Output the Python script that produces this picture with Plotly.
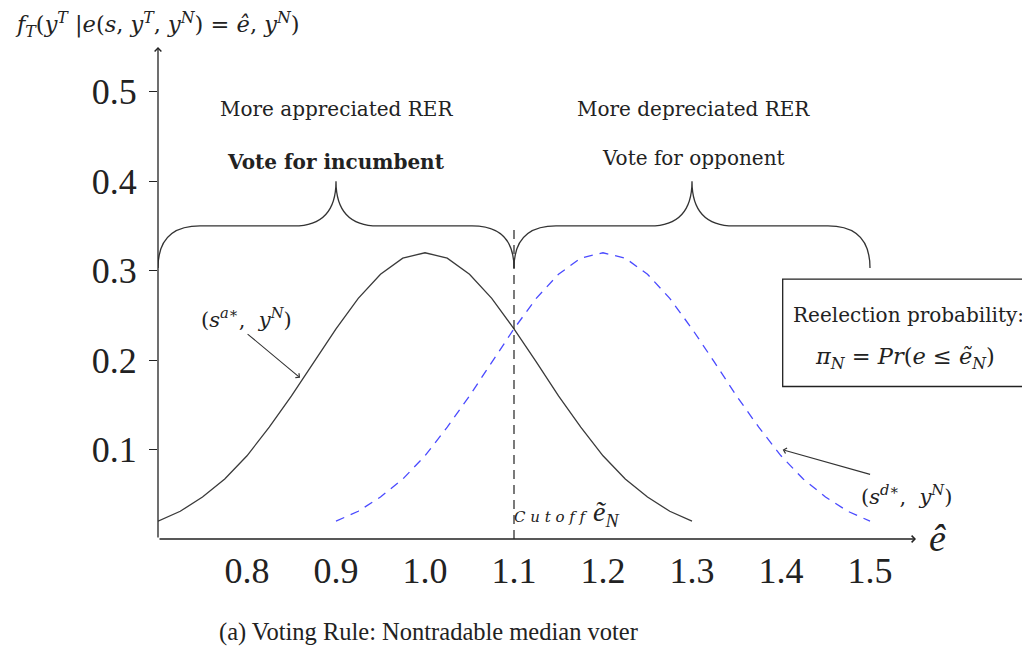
import plotly.graph_objects as go

# ---------------- data ----------------
x_incumbent = [0.700, 0.725, 0.750, 0.775, 0.800, 0.825, 0.850, 0.875, 0.900, 0.925, 0.950, 0.975,
               1.000, 1.025, 1.050, 1.075, 1.100, 1.125, 1.150, 1.175, 1.200, 1.225, 1.250, 1.275, 1.300]
y_incumbent = [0.020, 0.031, 0.047, 0.067, 0.093, 0.125, 0.160, 0.198, 0.235, 0.269, 0.296, 0.314,
               0.320, 0.314, 0.296, 0.269, 0.235, 0.198, 0.160, 0.125, 0.093, 0.067, 0.047, 0.031, 0.020]
x_opponent = [0.900, 0.925, 0.950, 0.975, 1.000, 1.025, 1.050, 1.075, 1.100, 1.125, 1.150, 1.175,
              1.200, 1.225, 1.250, 1.275, 1.300, 1.325, 1.350, 1.375, 1.400, 1.425, 1.450, 1.475, 1.500]
y_opponent = [0.020, 0.031, 0.047, 0.067, 0.093, 0.125, 0.160, 0.198, 0.235, 0.269, 0.296, 0.314,
              0.320, 0.314, 0.296, 0.269, 0.235, 0.198, 0.160, 0.125, 0.093, 0.067, 0.047, 0.031, 0.020]

x_tickvals = [0.8, 0.9, 1.0, 1.1, 1.2, 1.3, 1.4, 1.5]
x_ticktext = ["0.8", "0.9", "1.0", "1.1", "1.2", "1.3", "1.4", "1.5"]
y_tickvals = [0.1, 0.2, 0.3, 0.4, 0.5]
y_ticktext = ["0.1", "0.2", "0.3", "0.4", "0.5"]

cutoff = 1.1

# page offset (the page body has an 8px margin)
OFF = 8
W, H = 1030 - OFF, 652 - OFF
PLOT_L = 158 - OFF          # left edge of plot area in figure px
Y0_PX = 539.3 - OFF         # y=0 in figure px
PX_PER_X = 890.0
PX_PER_Y = 895.0
x_min, x_max = 0.7, 0.7 + (W - PLOT_L) / PX_PER_X
y_min, y_max = 0.0, Y0_PX / PX_PER_Y

TEXT = "#222222"
SERIF = "DejaVu Serif"
TICKFONT = dict(family="Liberation Serif", size=36, color=TEXT)

fig = go.Figure()
fig.add_trace(go.Scatter(x=x_incumbent, y=y_incumbent, mode="lines",
                         line=dict(color="#3a3a3a", width=1.3), hoverinfo="skip"))
fig.add_trace(go.Scatter(x=x_opponent, y=y_opponent, mode="lines",
                         line=dict(color="#4a4aff", width=1.3, dash="9px,7px"), hoverinfo="skip"))

# cutoff dashed line
fig.add_shape(type="line", xref="x", yref="y", x0=cutoff, x1=cutoff, y0=0, y1=0.348,
              line=dict(color="#222222", width=1.2, dash="9px,6px"))

# braces
def brace(x0, x1, yb=0.303, yf=0.35, yt=0.4, r=0.0472):
    xm = (x0 + x1) / 2
    return (f"M{x0},{yb} Q{x0},{yf} {x0 + r},{yf} L{xm - r},{yf} Q{xm},{yf} {xm},{yt} "
            f"Q{xm},{yf} {xm + r},{yf} L{x1 - r},{yf} Q{x1},{yf} {x1},{yb}")

for a, b in [(0.7, 1.1), (1.1, 1.5)]:
    fig.add_shape(type="path", xref="x", yref="y", path=brace(a, b),
                  line=dict(color="#333333", width=1.3))

# reelection box
fig.add_shape(type="rect", xref="x", yref="y", x0=1.4019, x1=1.6775, y0=0.1705, y1=0.2905,
              line=dict(color="#222222", width=1.3), fillcolor="rgba(0,0,0,0)")

ann = []
# axis arrows
ann.append(dict(x=1.5517, y=0, ax=0.7, ay=0, xref="x", yref="y", axref="x", ayref="y",
                text="", showarrow=True, arrowhead=4, arrowsize=1, arrowwidth=1.3, arrowcolor="#222222"))
ann.append(dict(x=0.7, y=0.55, ax=0.7, ay=0, xref="x", yref="y", axref="x", ayref="y",
                text="", showarrow=True, arrowhead=4, arrowsize=1, arrowwidth=1.3, arrowcolor="#222222"))
# pointer arrows
ann.append(dict(x=0.8596, y=0.1802, ax=0.799, ay=0.2305, xref="x", yref="y", axref="x", ayref="y",
                text="", showarrow=True, arrowhead=4, arrowsize=1, arrowwidth=1.1, arrowcolor="#333333"))
ann.append(dict(x=1.4019, y=0.0998, ax=1.5018, ay=0.0718, xref="x", yref="y", axref="x", ayref="y",
                text="", showarrow=True, arrowhead=4, arrowsize=1, arrowwidth=1.1, arrowcolor="#333333"))


def px_x(px):
    """page px -> paper x"""
    return (px - OFF - PLOT_L) / (W - PLOT_L)


def px_y(py):
    """page px -> paper y"""
    return (Y0_PX - (py - OFF)) / Y0_PX


def txt(px, py, s, size, family=SERIF, xanchor="center"):
    ann.append(dict(x=px_x(px), y=px_y(py), xref="paper", yref="paper", text=s, showarrow=False,
                    xanchor=xanchor, yanchor="middle",
                    font=dict(family=family, size=size, color=TEXT)))


NB = "\u00a0"

txt(336, 109, "More appreciated RER", 20)
txt(336, 162, "<b>Vote for incumbent</b>", 20)
txt(693, 109, "More depreciated RER", 20)
txt(693, 158, "Vote for opponent", 20)

txt(908, 315, "Reelection probability:", 20)
txt(905, 358,
    f"<i>π</i><sub><i>N</i></sub>{NB}={NB}<i>Pr</i>(<i>e</i>{NB}≤{NB}<i>ẽ</i><sub><i>N</i></sub>)",
    22.5)

txt(246, 318, f"(<i>s</i><sup><i>a</i>∗</sup>,{NB}{NB}<i>y</i><sup><i>N</i></sup>)", 21)
txt(906, 495, f"(<i>s</i><sup><i>d</i>∗</sup>,{NB}{NB}<i>y</i><sup><i>N</i></sup>)", 21)

txt(512, 517, "<i>C u t o f f</i>", 15, xanchor="left")
txt(591, 514, "<i>ẽ</i><sub><i>N</i></sub>", 28, family="Liberation Serif", xanchor="left")

txt(937, 538, "<i>ê</i>", 38, family="Liberation Serif")

txt(157, 25,
    f"<i>f</i><sub><i>T</i></sub>(<i>y</i><sup><i>T</i></sup>{NB}|<i>e</i>(<i>s</i>,{NB}<i>y</i><sup><i>T</i></sup>,{NB}"
    f"<i>y</i><sup><i>N</i></sup>){NB}={NB}<i>ê</i>,{NB}<i>y</i><sup><i>N</i></sup>)",
    22.5)

txt(428, 632, "(a) Voting Rule: Nontradable median voter", 24.5, family="Liberation Serif")

axis_common = dict(showgrid=False, zeroline=False, showline=False)
tick_common = dict(tickwidth=1.3, tickcolor="#222222", showticklabels=False)
fig.update_layout(
    width=W, height=H,
    margin=dict(l=PLOT_L, r=0, t=0, b=H - Y0_PX, pad=0),
    plot_bgcolor="white", paper_bgcolor="white",
    showlegend=False,
    annotations=ann,
    xaxis=dict(range=[x_min, x_max], tickmode="array", tickvals=x_tickvals, ticktext=x_ticktext,
               ticks="", ticklabelstandoff=7, tickfont=TICKFONT, **axis_common),
    yaxis=dict(range=[y_min, y_max], tickmode="array", tickvals=y_tickvals, ticktext=y_ticktext,
               ticks="outside", ticklen=8, tickwidth=1.3, tickcolor="#222222",
               ticklabelstandoff=5, tickfont=TICKFONT, **axis_common),
    xaxis2=dict(range=[x_min, x_max], overlaying="x", anchor="y", side="bottom",
                tickmode="array", tickvals=x_tickvals, ticks="inside", ticklen=9,
                **tick_common, **axis_common),
    xaxis3=dict(range=[x_min, x_max], overlaying="x", anchor="y", side="bottom",
                tickmode="array", tickvals=x_tickvals, ticks="outside", ticklen=9,
                **tick_common, **axis_common),
    yaxis2=dict(range=[y_min, y_max], overlaying="y", anchor="x", side="left",
                tickmode="array", tickvals=y_tickvals, ticks="inside", ticklen=8,
                **tick_common, **axis_common),
)

fig.write_html("out.html")
